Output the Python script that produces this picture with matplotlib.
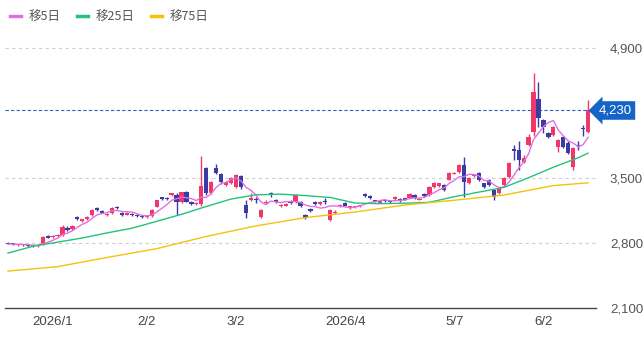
import numpy as np
import pandas as pd
import matplotlib.pyplot as plt

plt.rcParams['font.family'] = ['Noto Sans CJK JP', 'DejaVu Sans']

# daily candles (open / high / low / close)
opens = [2805, 2790, 2780, 2788, 2778, 2772, 2765, 2780, 2870, 2862,
         2875, 2890, 2965, 2950, 3080, 3040, 3060, 3100, 3172, 3150,
         3105, 3120, 3188, 3125, 3105, 3112, 3096, 3088, 3080, 3090,
         3190, 3290, 3282, 3320, 3320, 3240, 3350, 3245, 3220, 3225,
         3610, 3340, 3610, 3550, 3430, 3450, 3400, 3520, 3210, 3265,
         3270, 3080, 3230, 3335, 3265, 3200, 3200, 3250, 3240, 3240,
         3100, 3165, 3240, 3225, 3250, 3050, 3125, 3200, 3235, 3180,
         3185, 3195, 3325, 3305, 3260, 3235, 3260, 3255, 3275, 3265,
         3280, 3290, 3320, 3265, 3325, 3315, 3400, 3415, 3425, 3480,
         3545, 3565, 3640, 3445, 3525, 3555, 3445, 3480, 3370, 3340,
         3425, 3510, 3810, 3800, 3670, 3855, 3995, 4350, 4125, 3985,
         3965, 3835, 3940, 3875, 3620, 3855, 4045, 3995]
highs = [2815, 2800, 2795, 2792, 2786, 2782, 2785, 2875, 2890, 2888,
         2895, 2990, 2985, 2995, 3095, 3060, 3090, 3172, 3188, 3160,
         3125, 3185, 3205, 3140, 3130, 3120, 3110, 3100, 3095, 3165,
         3270, 3300, 3295, 3345, 3340, 3355, 3360, 3255, 3245, 3740,
         3625, 3470, 3650, 3560, 3470, 3510, 3545, 3530, 3260, 3340,
         3300, 3170, 3260, 3350, 3280, 3225, 3230, 3270, 3330, 3250,
         3110, 3175, 3250, 3255, 3290, 3170, 3160, 3225, 3245, 3200,
         3200, 3215, 3335, 3315, 3270, 3260, 3270, 3265, 3305, 3290,
         3290, 3340, 3330, 3290, 3335, 3415, 3455, 3450, 3435, 3565,
         3570, 3650, 3730, 3510, 3545, 3565, 3450, 3490, 3380, 3400,
         3510, 3670, 3860, 3900, 3750, 3980, 4630, 4535, 4140, 4000,
         4060, 3920, 3950, 3900, 3840, 3900, 4070, 4340]
lows = [2785, 2775, 2770, 2768, 2762, 2760, 2758, 2775, 2850, 2855,
        2865, 2880, 2925, 2945, 3050, 3030, 3050, 3095, 3150, 3120,
        3095, 3115, 3165, 3090, 3100, 3090, 3080, 3072, 3070, 3085,
        3185, 3270, 3262, 3310, 3100, 3230, 3240, 3215, 3210, 3200,
        3320, 3330, 3540, 3440, 3420, 3440, 3390, 3385, 3070, 3250,
        3230, 3070, 3220, 3300, 3230, 3190, 3195, 3225, 3235, 3190,
        3060, 3130, 3215, 3215, 3225, 3040, 3115, 3190, 3195, 3170,
        3175, 3185, 3300, 3280, 3240, 3230, 3240, 3235, 3270, 3240,
        3260, 3285, 3275, 3260, 3300, 3310, 3390, 3410, 3365, 3475,
        3540, 3560, 3295, 3440, 3515, 3470, 3395, 3415, 3260, 3330,
        3420, 3505, 3700, 3590, 3660, 3850, 3960, 4050, 3990, 3930,
        3955, 3780, 3825, 3760, 3590, 3800, 3950, 3985]
closes = [2790, 2785, 2788, 2778, 2770, 2765, 2778, 2865, 2858, 2878,
          2887, 2975, 2940, 2985, 3062, 3055, 3085, 3162, 3160, 3128,
          3115, 3176, 3175, 3105, 3120, 3098, 3088, 3080, 3085, 3160,
          3260, 3280, 3275, 3335, 3240, 3350, 3245, 3225, 3235, 3415,
          3340, 3455, 3555, 3460, 3460, 3500, 3535, 3400, 3120, 3285,
          3260, 3160, 3245, 3315, 3245, 3215, 3220, 3235, 3320, 3200,
          3075, 3145, 3225, 3240, 3240, 3155, 3140, 3215, 3200, 3195,
          3190, 3205, 3310, 3285, 3245, 3250, 3250, 3245, 3295, 3260,
          3270, 3330, 3285, 3280, 3310, 3405, 3445, 3445, 3375, 3555,
          3560, 3640, 3455, 3500, 3540, 3480, 3405, 3425, 3295, 3390,
          3500, 3660, 3795, 3695, 3720, 3940, 4425, 4145, 4050, 3940,
          4050, 3910, 3835, 3770, 3830, 3845, 4030, 4230]

# 25-day and 75-day averages at a few candles
ma25_idx = [0, 5, 10, 15, 20, 25, 30, 35, 40, 45, 50, 55, 60, 65, 70, 75,
            80, 85, 90, 95, 100, 105, 110, 115, 117]
ma25_val = [2692, 2765, 2810, 2855, 2910, 2960, 3035, 3110, 3195, 3275,
            3320, 3328, 3312, 3292, 3232, 3225, 3230, 3240, 3300, 3350,
            3400, 3505, 3618, 3720, 3770]
ma75_idx = [0, 10, 20, 30, 40, 50, 60, 70, 80, 90, 100, 110, 117]
ma75_val = [2498, 2546, 2645, 2740, 2872, 2985, 3075, 3135, 3210, 3262,
            3318, 3420, 3450]

tick_pos = [9, 28, 46, 68, 90, 108]
tick_labels = ['2026/1', '2/2', '3/2', '2026/4', '5/7', '6/2']
last_price = 4230

up_col = '#f0386a'
down_col = '#3b3ba8'

df = pd.DataFrame({'o': opens, 'h': highs, 'l': lows, 'c': closes})
df['ma5'] = df['c'].rolling(5, min_periods=1).mean()
x = np.arange(len(df))

fig = plt.figure(figsize=(6.44, 3.37), dpi=100)
ax = fig.add_axes([5 / 644, 1 - 308 / 337, 591 / 644, 268 / 337])

# gridlines
for g in [2800, 3500, 4900]:
    ax.axhline(g, color='#cfcfcf', lw=0.8, ls=(0, (3, 3)), zorder=0)
ax.axhline(last_price, color='#2a64b8', lw=0.8, ls=(0, (3, 2)), zorder=1)

# candles
colors = [up_col if c >= o else down_col for o, c in zip(df['o'], df['c'])]
ax.vlines(x, df['l'], df['h'], colors=colors, lw=1.0, zorder=2)
bottoms = np.minimum(df['o'], df['c'])
heights = np.maximum(np.abs(df['c'] - df['o']), 14)
ax.bar(x, heights, bottom=bottoms, width=0.85, color=colors, zorder=3)

l5, = ax.plot(x, df['ma5'], color='#e070e0', lw=1.0, zorder=4, label='移5日')
l25, = ax.plot(ma25_idx, ma25_val, color='#22c37a', lw=1.0, zorder=4, label='移25日')
l75, = ax.plot(ma75_idx, ma75_val, color='#f5c20a', lw=1.0, zorder=4, label='移75日')

ax.set_xlim(-0.6, 118.6)
ax.set_ylim(2100, 4990)
for s in ['top', 'left', 'right']:
    ax.spines[s].set_visible(False)
ax.spines['bottom'].set_color('#444444')
ax.spines['bottom'].set_linewidth(1.0)

ax.yaxis.tick_right()
ax.set_yticks([2100, 2800, 3500, 4900])
ax.set_yticklabels([f'{v:,}' for v in [2100, 2800, 3500, 4900]],
                   family='Liberation Sans', color='#555555', fontsize=9.5)
ax.tick_params(axis='y', length=0, pad=10)
ax.set_xticks(tick_pos)
ax.set_xticklabels(tick_labels, family='Liberation Sans', color='#444444', fontsize=9.5)
ax.tick_params(axis='x', length=0, pad=6)

# current price tag
ax.annotate(f'{last_price:,}', xy=(1.0, last_price), xycoords=('axes fraction', 'data'),
            xytext=(2, 0), textcoords='offset points', ha='left', va='center',
            color='white', fontsize=9.5, family='Liberation Sans',
            bbox=dict(boxstyle='larrow,pad=0.25', fc='#1565c8', ec='none'),
            annotation_clip=False)

fig.legend(handles=[l5, l25, l75], loc='upper left', bbox_to_anchor=(0.0, 1.0),
           ncol=3, frameon=False, fontsize=9, handlelength=0.9, handletextpad=0.6,
           columnspacing=1.3, labelcolor='#555555', borderaxespad=0.4)
for h in fig.legends[0].legend_handles:
    h.set_linewidth(2.5)

fig.savefig('out.png', dpi=100)
